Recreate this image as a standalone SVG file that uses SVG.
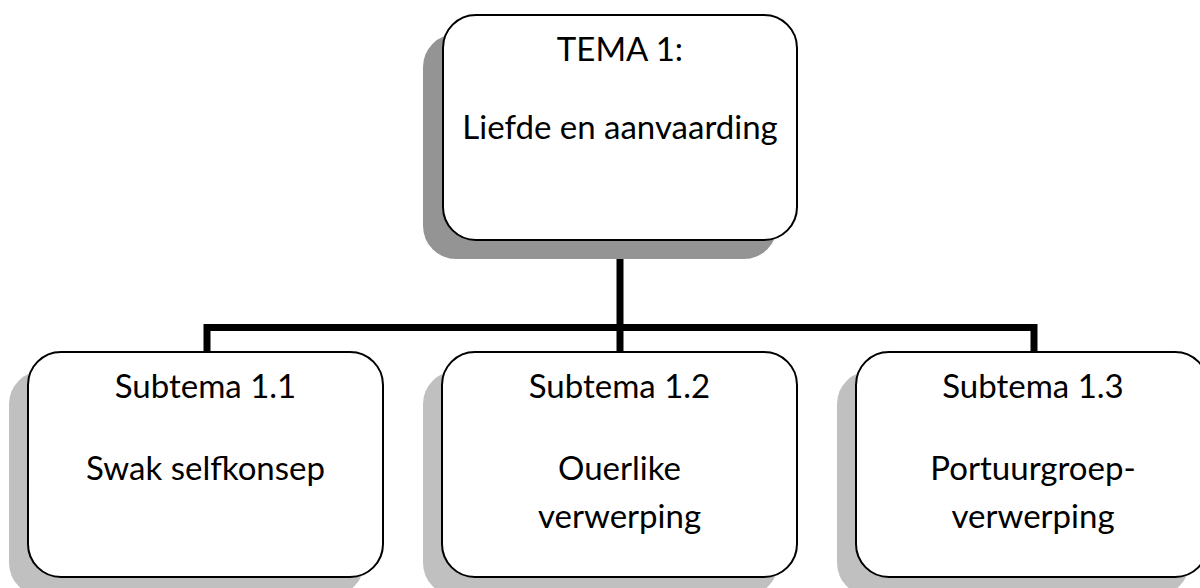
<svg xmlns="http://www.w3.org/2000/svg" width="1200" height="588" viewBox="0 0 1200 588">
<style>
.box{fill:#fff;stroke:#000;stroke-width:2}
.sh1{fill:#949494}
.sh2{fill:#c0c0c0}
.t{font-family:Lato,"Open Sans",sans-serif;font-size:33px;fill:#000;text-anchor:middle}
.c{stroke:#000;stroke-width:7;fill:none}
</style>
<rect width="1200" height="588" fill="#fff"/>
<g id="connectors">
<line class="c" x1="620" y1="240" x2="620" y2="352"/>
<polyline class="c" points="207,352 207,327.5 1034,327.5 1034,352"/>
</g>
<g id="tema1">
<rect class="sh1" x="423" y="34" width="354" height="225" rx="33"/>
<rect class="box" x="443" y="15" width="354" height="225" rx="33"/>
<text class="t" x="620" y="61">TEMA 1:</text>
<text class="t" x="620" y="139">Liefde en aanvaarding</text>
</g>
<g id="sub11">
<rect class="sh2" x="9" y="371" width="355" height="225" rx="33"/>
<rect class="box" x="28" y="352" width="355" height="225" rx="33"/>
<text class="t" x="205.5" y="398">Subtema 1.1</text>
<text class="t" x="205.5" y="480">Swak selfkonsep</text>
</g>
<g id="sub12">
<rect class="sh2" x="423" y="371" width="355" height="225" rx="33"/>
<rect class="box" x="442" y="352" width="355" height="225" rx="33"/>
<text class="t" x="619.5" y="398">Subtema 1.2</text>
<text class="t" x="619.5" y="480">Ouerlike</text>
<text class="t" x="619.5" y="528">verwerping</text>
</g>
<g id="sub13">
<rect class="sh2" x="837" y="371" width="352" height="225" rx="33"/>
<rect class="box" x="856" y="352" width="352" height="225" rx="33"/>
<text class="t" x="1033" y="398">Subtema 1.3</text>
<text class="t" x="1033" y="480">Portuurgroep-</text>
<text class="t" x="1033" y="528">verwerping</text>
</g>
</svg>
